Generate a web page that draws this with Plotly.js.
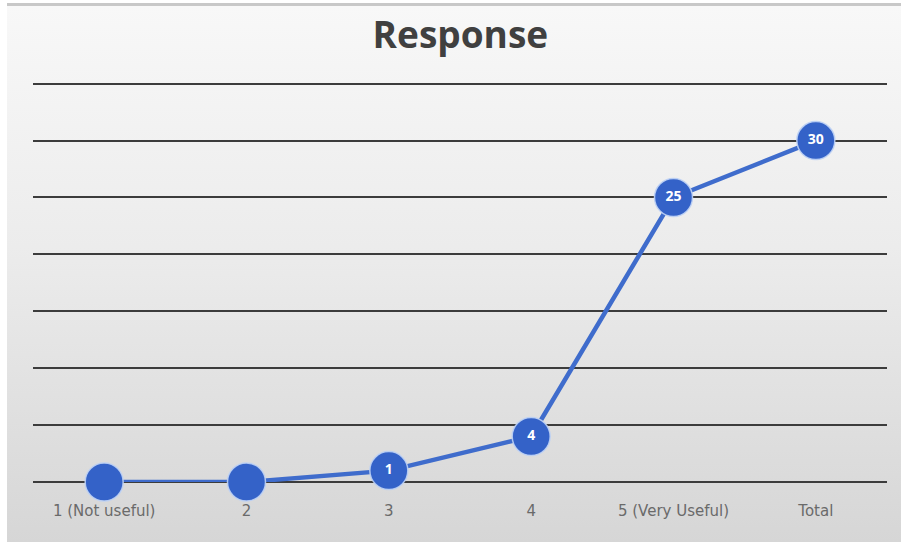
<!DOCTYPE html>
<html>
<head>
<meta charset="utf-8">
<script src="https://cdn.plot.ly/plotly-3.0.1.min.js"></script>
<style>
  html, body { margin: 0; padding: 0; background: #ffffff; }
  #wrap { position: relative; width: 901px; height: 543px; overflow: hidden; }
  #bg { position: absolute; left: 7px; top: 3px; width: 894px; height: 536px;
        border-top: 3px solid #c8c8c8;
        background: linear-gradient(to bottom, #f8f8f8 0%, #ececec 45%, #d6d6d6 100%); }
  #chart { position: absolute; left: 0; top: 0; width: 901px; height: 543px; }
</style>
</head>
<body>
<div id="wrap">
  <div id="bg"></div>
  <div id="chart"></div>
</div>
<script>
const categories = ['1 (Not useful)', '2', '3', '4', '5 (Very Useful)', 'Total'];
const responses = [0, 0, 1, 4, 25, 30];
const yTicks = [0, 5, 10, 15, 20, 25, 30, 35];

const labels = responses.map(v => v > 0 ? String(v) : '');

const trace = {
  x: categories,
  y: responses,
  type: 'scatter',
  mode: 'lines+markers+text',
  text: labels,
  textposition: 'middle center',
  textfont: { family: 'Open Sans, Liberation Sans, sans-serif', size: 14, color: '#ffffff', weight: 'bold' },
  line: { color: '#3f6ccc', width: 4.5 },
  marker: { size: 38, color: '#3462c8', line: { color: 'rgba(190,210,245,0.9)', width: 1.5 } },
  cliponaxis: false,
  hoverinfo: 'x+y'
};

const layout = {
  width: 901,
  height: 543,
  paper_bgcolor: 'rgba(0,0,0,0)',
  plot_bgcolor: 'rgba(0,0,0,0)',
  margin: { l: 33, r: 14, t: 78, b: 61 },
  showlegend: false,
  title: {
    text: '<b>Response</b>',
    font: { family: 'Open Sans, Liberation Sans, sans-serif', size: 37, color: '#404040' },
    x: 0.511, xanchor: 'center',
    y: 0.935, yanchor: 'middle'
  },
  xaxis: {
    type: 'category',
    range: [-0.5, 5.5],
    showgrid: false,
    zeroline: false,
    showline: false,
    ticks: '',
    ticklabelstandoff: 18,
    tickfont: { family: 'DejaVu Sans, sans-serif', size: 15, color: '#6a6a6a' }
  },
  yaxis: {
    range: [0, 35.5],
    tickvals: yTicks,
    showticklabels: false,
    showgrid: true,
    gridcolor: '#3c3c3c',
    gridwidth: 2,
    zeroline: true,
    zerolinecolor: '#3c3c3c',
    zerolinewidth: 2,
    showline: false,
    ticks: ''
  }
};

Plotly.newPlot('chart', [trace], layout, { displayModeBar: false, staticPlot: true });
</script>
</body>
</html>
